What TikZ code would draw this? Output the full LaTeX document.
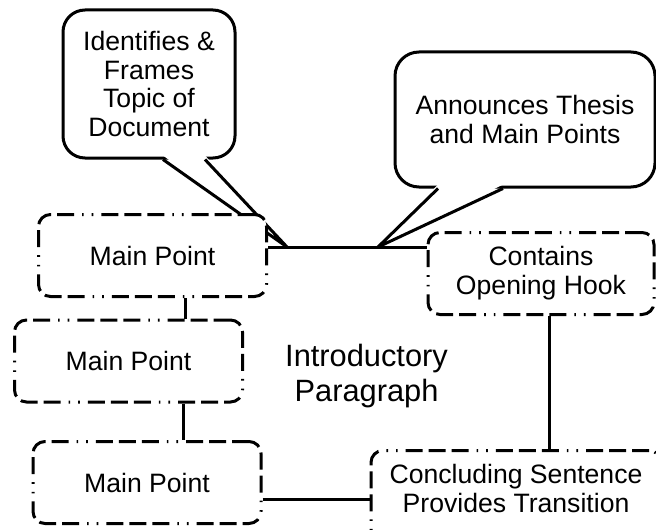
\documentclass[tikz,border=0pt]{standalone}
\usepackage{fontspec}
\setmainfont{Liberation Sans}

\begin{document}
\begin{tikzpicture}[x=0.5pt,y=-0.5pt,
        pointbox/.style={draw, line width=1.5pt, fill=white, rounded corners=6pt,
            dash pattern=on 8.5pt off 3pt on 8.5pt off 3pt on 8.5pt off 4pt on 0.8pt off 4pt on 0.8pt off 4pt,
            minimum width=114pt, minimum height=41pt, align=center,
            font=\fontsize{13.3}{14.5}\selectfont},
        bubble/.style={draw, line width=1.5pt, fill=white, align=center,
            font=\fontsize{13.3}{14.3}\selectfont},
        tail/.style={line width=1.5pt, line join=round},
        link/.style={line width=1.5pt}]
    \useasboundingbox (0,0) rectangle (656,529);
    \clip (0,0) rectangle (656,529);

    % callouts
    \node[bubble, rounded corners=11pt, minimum width=86pt, minimum height=74pt] (ident) at (149,84)
        {Identifies \&\\Frames\\Topic of\\Document};
    \node[bubble, rounded corners=12pt, minimum width=130pt, minimum height=67.5pt] (thesis) at (525,119.5)
        {Announces Thesis\\and Main Points};
    \coordinate (tipA) at (287,247);
    \coordinate (tipB) at (378,247);
    \fill[white] ([xshift=7pt,yshift=2pt]ident.south) -- (tipA) -- ([xshift=28pt,yshift=2pt]ident.south) -- cycle;
    \draw[tail] ([xshift=7pt]ident.south) -- (tipA) -- ([xshift=28pt]ident.south);
    \fill[white] ([xshift=-43.5pt,yshift=2pt]thesis.south) -- (tipB) -- ([xshift=-11pt,yshift=2pt]thesis.south) -- cycle;
    \draw[tail] ([xshift=-43.5pt]thesis.south) -- (tipB) -- ([xshift=-11pt]thesis.south);

    % boxes
    \node[pointbox] (mp1) at (152.5,255.5) {Main Point};
    \node[pointbox] (mp2) at (128.5,361) {Main Point};
    \node[pointbox] (mp3) at (147,482.5) {Main Point};
    \node[pointbox, minimum width=113pt] (hook) at (541,273.5) {Contains\\Opening Hook};
    \node[pointbox, anchor=north, minimum height=0pt, minimum width=145pt] (concl) at (516,449)
        {\raisebox{0pt}[\dimexpr\height+3pt\relax][\dimexpr\depth+24pt\relax]{%
            \begin{tabular}{@{}c@{}}Concluding Sentence\\Provides Transition\end{tabular}}};
    \node[align=center, font=\fontsize{15.4}{17.5}\selectfont] (intro) at (366.5,376) {Introductory\\Paragraph};

    % connectors
    \coordinate (j1) at ([xshift=16.25pt]mp1.south);
    \coordinate (j2) at ([xshift=27.25pt]mp2.south);
    \coordinate (j3) at ([yshift=-8.25pt]mp3.east);
    \coordinate (j4) at ([xshift=4pt]hook.south);
    \draw[link] (mp1.east |- tipA) -- (hook.west |- tipA);
    \draw[link] (j1) -- (j1 |- mp2.north);
    \draw[link] (j2) -- (j2 |- mp3.north);
    \draw[link] (j3) -- (j3 -| concl.west);
    \draw[link] (j4) -- (j4 |- concl.north);
\end{tikzpicture}
\end{document}
